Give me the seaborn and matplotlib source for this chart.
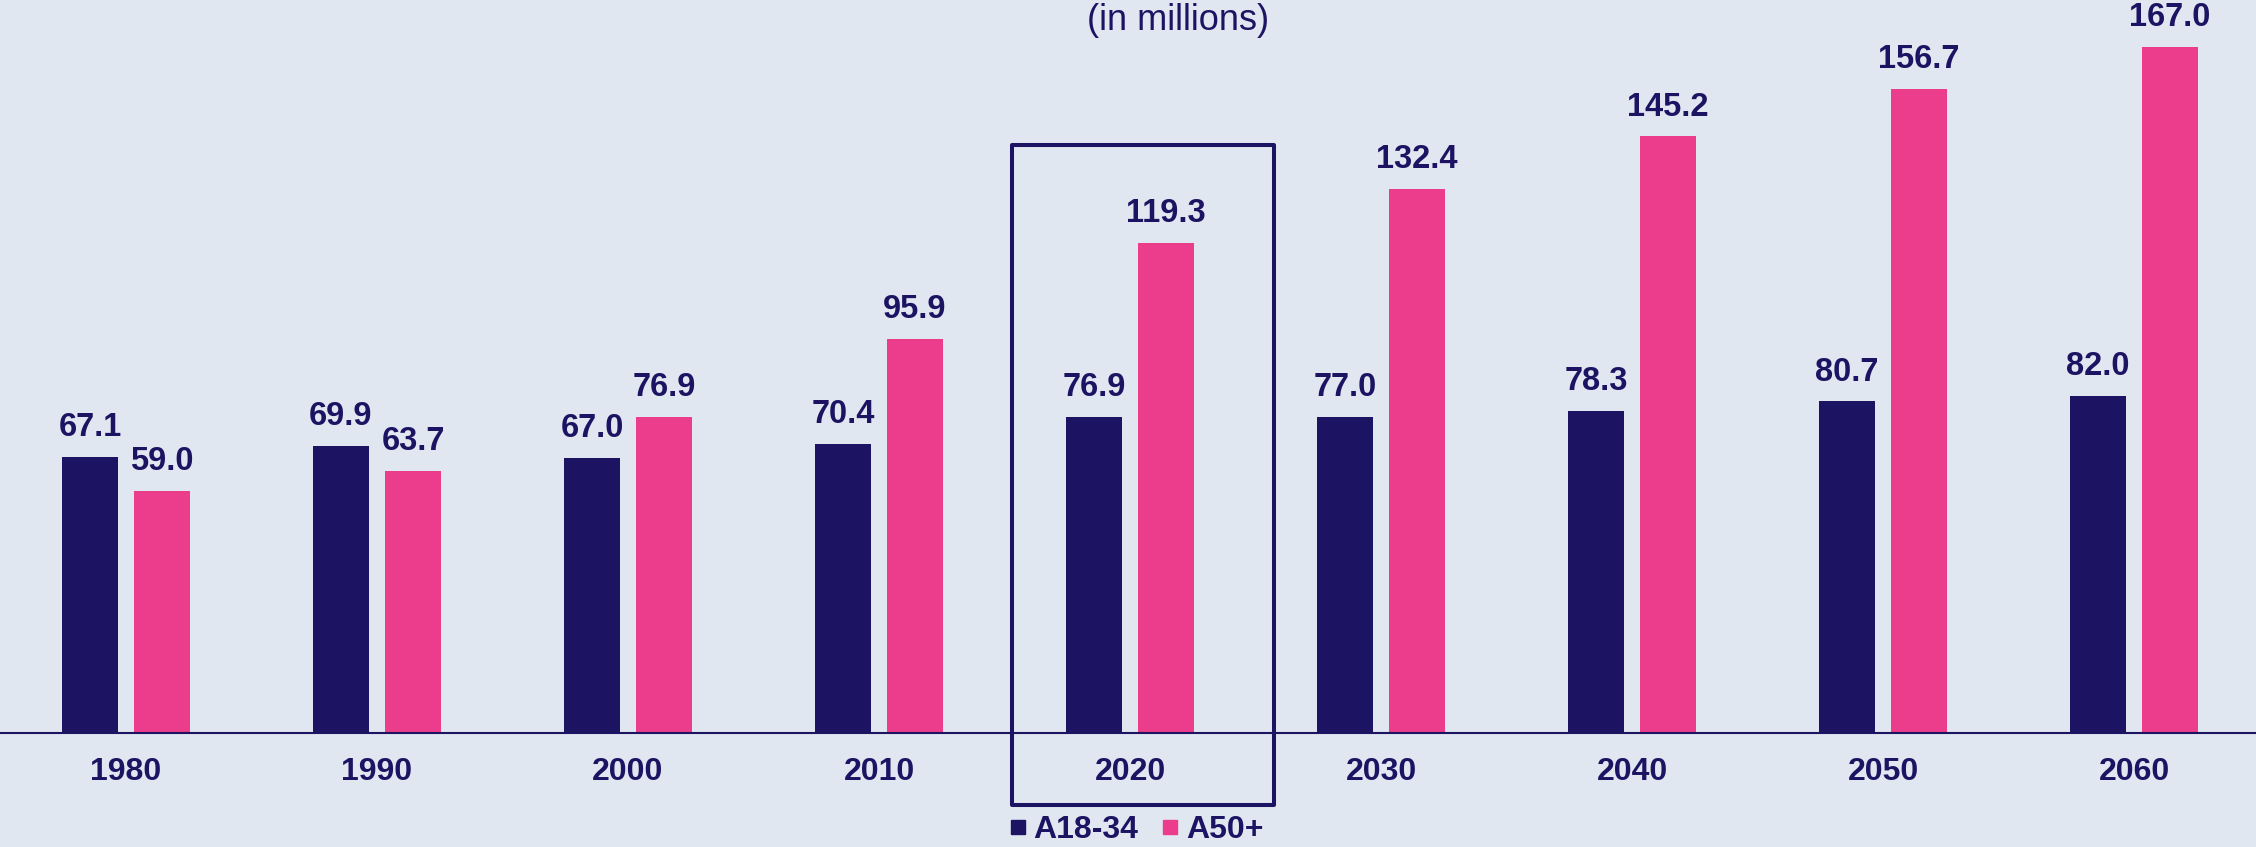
import numpy as np
import pandas as pd
import matplotlib.pyplot as plt
from matplotlib.lines import Line2D
from matplotlib.patches import Rectangle
import seaborn as sns

# population by age group, in millions
years = ["1980", "1990", "2000", "2010", "2020", "2030", "2040", "2050", "2060"]
a18_34 = [67.1, 69.9, 67.0, 70.4, 76.9, 77.0, 78.3, 80.7, 82.0]
a50_plus = [59.0, 63.7, 76.9, 95.9, 119.3, 132.4, 145.2, 156.7, 167.0]
groups = ["A18-34", "A50+"]
highlight = "2020"

navy = "#1C1463"
pink = "#EC3C8C"
bg = "#E1E7F1"

df = pd.DataFrame({
    "year": years * 2,
    "value": a18_34 + a50_plus,
    "group": [groups[0]] * len(years) + [groups[1]] * len(years),
})

sns.set_theme(style="white")
plt.rcParams["font.family"] = ["Liberation Sans", "DejaVu Sans"]

fig = plt.figure(figsize=(22.56, 8.47), dpi=100, facecolor=bg)
ax = fig.add_axes([0, (847 - 733) / 847, 1, 733 / 847])
ax.set_facecolor(bg)

sns.barplot(data=df, x="year", y="value", hue="group", palette=[navy, pink],
            width=0.574, gap=0.223, saturation=1, legend=False, ax=ax,
            linewidth=0, edgecolor="none")

for cont in ax.containers:
    ax.bar_label(cont, fmt="%.1f", padding=10, fontsize=23.5,
                 fontweight="bold", color=navy)

ax.set_xlim(-0.502, 8.486)
ax.set_ylim(0, 178.4)
ax.set_xlabel("")
ax.set_ylabel("")
ax.set_yticks([])
ax.tick_params(axis="x", length=0, pad=17, labelsize=23, labelcolor=navy)
for lbl in ax.get_xticklabels():
    lbl.set_fontweight("bold")
for s in ["top", "left", "right"]:
    ax.spines[s].set_visible(False)
ax.spines["bottom"].set_color(navy)
ax.spines["bottom"].set_linewidth(1.5)

# box around the current year
i = years.index(highlight)
box = Rectangle((i - 0.469, -17.5), 1.044, 160.6, fill=False, edgecolor=navy,
                linewidth=2.9, joinstyle="round", clip_on=False)
ax.add_patch(box)

fig.text(0.522, 1 - 21 / 847, "(in millions)", ha="center", va="center",
         fontsize=26, color=navy)

handles = [Line2D([], [], marker="s", linestyle="", markersize=10.5,
                  color=c) for c in [navy, pink]]
leg = fig.legend(handles, groups, loc="center", bbox_to_anchor=(0.5035, 0.02),
                 ncol=2, frameon=False, handlelength=0.6, handletextpad=0.2,
                 columnspacing=0.7, prop={"size": 23, "weight": "bold"})
for t in leg.get_texts():
    t.set_color(navy)

fig.savefig("out.png", dpi=100, facecolor=bg)
